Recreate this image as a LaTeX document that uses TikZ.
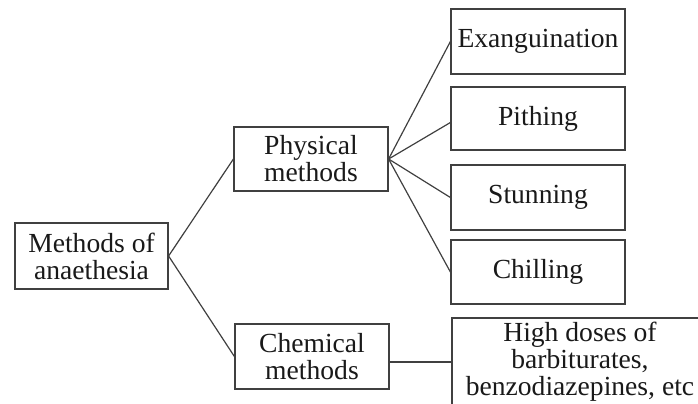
\documentclass[tikz,border=0pt]{standalone}
\usepackage{fontspec}
\setmainfont{Liberation Serif}
\begin{document}
\begin{tikzpicture}[x=0.5pt,y=-0.5pt,
  box/.style={draw=black!75, line width=0.6pt, rectangle, align=center, inner sep=0pt,
    font=\fontsize{13.8}{13.5}\selectfont, text=black!90},
  link/.style={draw=black!75, line width=0.6pt}]
\useasboundingbox (0,0) rectangle (698,403);
\clip (0,0) rectangle (698,403);
\node[box, minimum width=76.5pt, minimum height=33pt] (m) at (91.5,256) {Methods of\\anaethesia};
\node[box, minimum width=77pt, minimum height=32pt] (p) at (311,159) {Physical\\methods};
\node[box, minimum width=77pt, minimum height=32.5pt] (c) at (312,356.5) {Chemical\\methods};
\node[box, minimum width=87pt, minimum height=32.5pt] (e) at (538,41.5) {Exanguination};
\node[box, minimum width=87pt, minimum height=31.5pt] (pi) at (538,118.5) {\raisebox{2.5pt}{Pithing}};
\node[box, minimum width=87pt, minimum height=32.5pt] (s) at (538,197.5) {\raisebox{2pt}{Stunning}};
\node[box, minimum width=87pt, minimum height=32pt] (ch) at (538,272) {Chilling};
\node[box, minimum width=128pt, minimum height=44pt] (h) at (580,362) {High doses of\\barbiturates,\\benzodiazepines, etc};
\draw[link] (m.east) -- (p.west);
\draw[link] (m.east) -- (c.west);
\draw[link] (p.east) -- (e.west);
\draw[link] (p.east) -- ([yshift=-2pt]pi.west);
\draw[link] (p.east) -- (s.west);
\draw[link] (p.east) -- (ch.west);
\draw[link] (c.east |- h.west) -- (h.west);
\end{tikzpicture}
\end{document}
